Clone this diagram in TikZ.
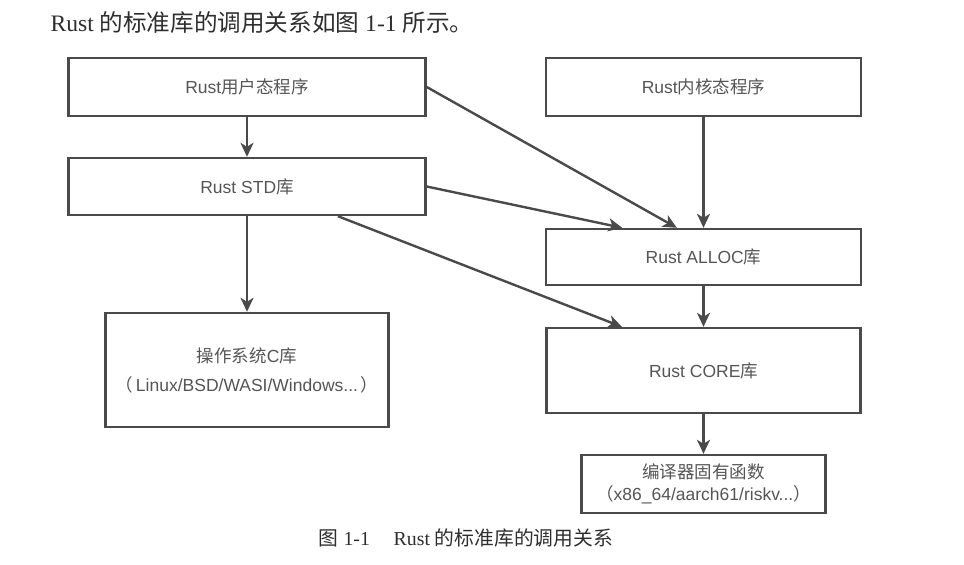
\documentclass[tikz,border=0pt]{standalone}
\usepackage{fontspec}
\setmainfont{Liberation Serif}
\newfontfamily\boxfont{Liberation Sans}
\newfontfamily\cjk{Noto Sans CJK SC}
\newcommand{\zh}[1]{{\cjk #1}}
\usetikzlibrary{arrows.meta,calc}
\definecolor{linegray}{HTML}{4A4A4A}
\definecolor{textgray}{HTML}{555555}
\definecolor{headgray}{HTML}{2E2E2E}
\tikzset{
  box/.style={draw=linegray, line width=2.4pt, rectangle, inner sep=0pt, align=center,
    text=textgray, font=\boxfont\fontsize{17.5}{20}\selectfont},
  conn/.style={draw=linegray, line width=2.4pt, -{Stealth[length=14pt,width=13pt,inset=4pt]}},
}
\begin{document}
\begin{tikzpicture}[x=1pt,y=-1pt]
\useasboundingbox (0,0) rectangle (964,565);
\node[anchor=west, text=headgray, font=\fontsize{23.6}{27}\selectfont] (head) at (47,23)
  {Rust \zh{的标准库的调用关系如图} 1-1 \zh{所示。}};
\node[box, minimum width=357pt, minimum height=58pt] (user) at (247,87) {Rust\zh{用户态程序}};
\node[box, minimum width=357pt, minimum height=57pt] (std) at (247,186.5) {Rust STD\zh{库}};
\node[box, minimum width=315pt, minimum height=58pt] (kern) at (703.5,87) {Rust\zh{内核态程序}};
\node[box, minimum width=315pt, minimum height=56pt] (alloc) at (703.5,257) {Rust ALLOC\zh{库}};
\node[box, minimum width=314pt, minimum height=85pt] (core) at (703.5,370.5) {Rust CORE\zh{库}};
\node[box, minimum width=283pt, minimum height=114pt] (clib) at (247,370)
  {\zh{操作系统}C\zh{库}\\[9pt]\zh{（}\,Linux/BSD/WASI/Windows...\,\zh{）}};
\node[box, minimum width=244pt, minimum height=58pt] (bin) at (703.5,484)
  {\zh{编译器固有函数}\\[2pt]\zh{（}x86\_64/aarch61/riskv...\zh{）}};
\node[text=headgray, font=\fontsize{19.8}{23}\selectfont] (cap) at (466,538)
  {\zh{图} 1-1\hspace{1.2em}Rust \zh{的标准库的调用关系}};
\draw[conn] (user) -- (std);
\draw[conn] (std) -- (clib);
\draw[conn] (kern) -- (alloc);
\draw[conn] (alloc) -- (core);
\draw[conn] (core) -- (bin);
\draw[conn] (user.east) -- ($(alloc.north west)!0.416!(alloc.north east)$);
\draw[conn] (std.east) -- ($(alloc.north west)!0.244!(alloc.north east)$);
\draw[conn] ($(std.south west)!0.753!(std.south east)$) -- ($(core.north west)!0.242!(core.north east)$);
\end{tikzpicture}
\end{document}
